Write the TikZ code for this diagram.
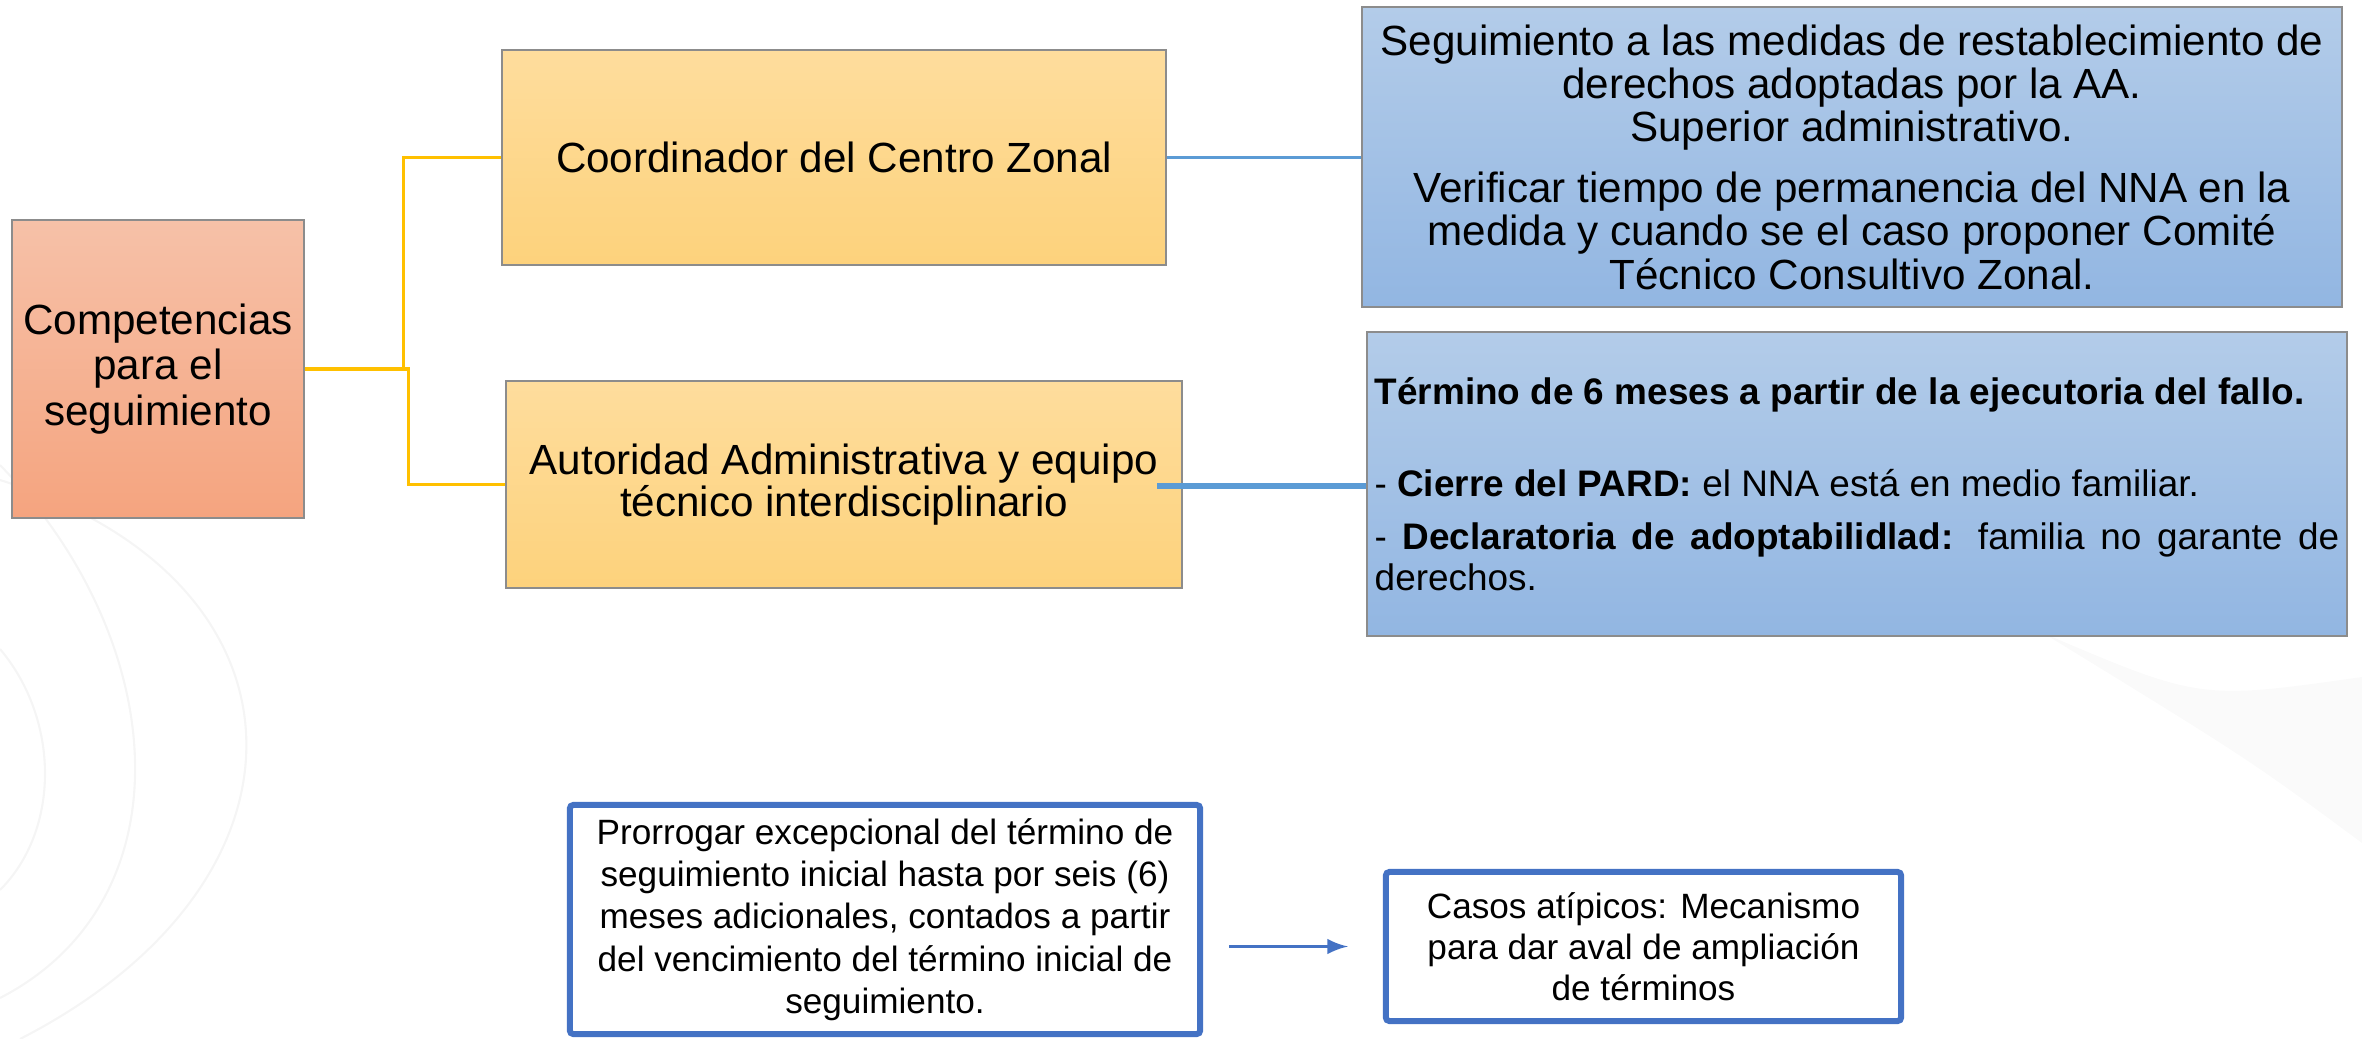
\documentclass[tikz,border=0pt]{standalone}
\usepackage{fontspec}
\setmainfont{Liberation Sans}
\usepackage{xcolor}
\usepackage{tikz}
\usetikzlibrary{shapes.geometric,arrows,calc,positioning}

\definecolor{framegray}{HTML}{8C8C8C}
\definecolor{salmontop}{HTML}{F6C1A8}
\definecolor{salmonbot}{HTML}{F5A47F}
\definecolor{yeltop}{HTML}{FEDD9D}
\definecolor{yelbot}{HTML}{FDD27C}
\definecolor{bluetop}{HTML}{B3CCE9}
\definecolor{bluebot}{HTML}{92B6E2}
\definecolor{goldline}{HTML}{FFC000}
\definecolor{linkblue}{HTML}{5B9BD5}
\definecolor{frameblue}{HTML}{4472C4}

\begin{document}
\begin{tikzpicture}[x = 0.01cm, y = -0.01cm]
	\tikzstyle{every node} = [rectangle, draw = framegray, line width = 0.6pt, inner sep = 0pt, align = center]
	\tikzstyle{salmon} = [top color = salmontop, bottom color = salmonbot, font = \fontsize{12}{13}\selectfont]
	\tikzstyle{yellow} = [top color = yeltop, bottom color = yelbot, font = \fontsize{12}{12}\selectfont]
	\tikzstyle{bluebox} = [top color = bluetop, bottom color = bluebot]
	\tikzstyle{whitebox} = [draw = frameblue, fill = white, line width = 1.7pt, rounded corners = 1pt]
	\tikzstyle{bgarc} = [draw = black!4, line width = 0.6pt]
\useasboundingbox (0, 0) rectangle (2362, 1039);

	% faint background arcs
	\path[bgarc] (0, 649) .. controls (60, 720) and (60, 830) .. (0, 890);
	\path[bgarc] (0, 465) .. controls (170, 640) and (190, 900) .. (0, 998);
	\path[bgarc] (0, 480) .. controls (320, 580) and (330, 880) .. (20, 1039);
	\path[fill = black!2] (2043, 633) .. controls (2200, 700) .. (2362, 677) -- (2362, 843) .. controls (2250, 760) .. (2043, 633);

\node[salmon, minimum width = 2.92cm, minimum height = 2.98cm] (0) at (158, 369) {Competencias\\para el\\seguimiento};
\node[yellow, minimum width = 6.64cm, minimum height = 2.15cm] (1) at (834, 157.5) {Coordinador del Centro Zonal};
\node[yellow, minimum width = 6.76cm, minimum height = 2.07cm] (2) at (844, 484.5) {Autoridad Administrativa y equipo\\t\'ecnico interdisciplinario};
\node[bluebox, minimum width = 9.80cm, minimum height = 3.00cm, font = \fontsize{12}{12.3}\selectfont] (3) at (1852, 157) {Seguimiento a las medidas de restablecimiento de\\derechos adoptadas por la AA.\\Superior administrativo.\\[5pt]Verificar tiempo de permanencia del NNA en la\\medida y cuando se el caso proponer Comit\'e\\T\'ecnico Consultivo Zonal.};
\node[bluebox, minimum width = 9.80cm, minimum height = 3.04cm, text width = 9.64cm, align = justify, font = \fontsize{10.5}{11.4}\selectfont] (4) at (1857, 484) {\textbf{T\'ermino de 6 meses a partir de la ejecutoria del fallo.}\par\vspace{14.8pt}
- \textbf{Cierre del PARD:} el NNA est\'a en medio familiar.\par\vspace{3.7pt}
- \textbf{Declaratoria de adoptabilidlad:} familia no garante de\linebreak derechos.};
\node[whitebox, minimum width = 6.30cm, minimum height = 2.29cm, font = \fontsize{10}{12}\selectfont] (5) at (885, 919.5) {Prorrogar excepcional del t\'ermino de\\seguimiento inicial hasta por seis (6)\\meses adicionales, contados a partir\\del vencimiento del t\'ermino inicial de\\seguimiento.};
\node[whitebox, minimum width = 5.15cm, minimum height = 1.49cm, font = \fontsize{10}{11.6}\selectfont] (6) at (1643.5, 946.5) {Casos at\'ipicos: Mecanismo\\para dar aval de ampliaci\'on\\de t\'erminos};

	\path[draw, goldline, line width = 0.9pt] (0.east) -- ++(98, 0) |- (1.west);
	\path[draw, goldline, line width = 0.9pt] (0.east) -- ++(103, 0) |- (2.west);
	\path[draw, linkblue, line width = 0.9pt] (1.east) -- (1.east -| 3.west);
	\path[draw, linkblue, line width = 1.7pt] ([xshift = -0.26cm, yshift = -0.015cm]2.east) -- ([yshift = -0.015cm]2.east -| 4.west);
	\path[draw, frameblue, line width = 1pt, -latex, shorten < = 0.26cm, shorten > = 0.35cm] (5.east |- 6.west) -- (6.west);
	\end{tikzpicture}
\end{document}
